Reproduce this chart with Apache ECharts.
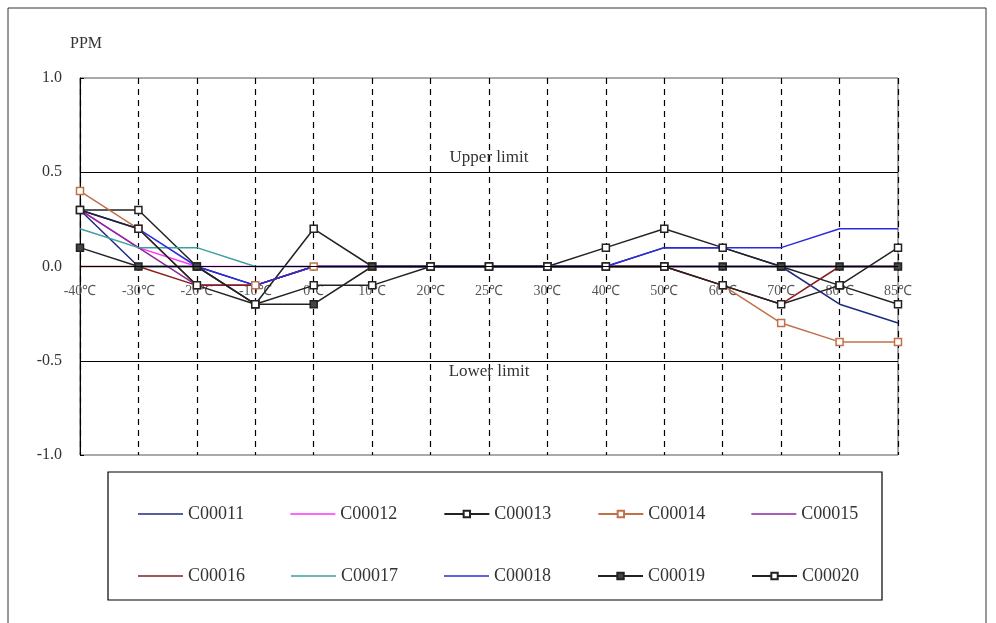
<!DOCTYPE html>
<html><head><meta charset="utf-8">
<script src="https://cdn.jsdelivr.net/npm/echarts@6/dist/echarts.min.js"></script>
<style>html,body{margin:0;background:#fff}#c{width:996px;height:623px}</style>
</head><body><div id="c"></div>
<script>
// 温度类别
var temps = ['-40℃','-30℃','-20℃','-10℃','0℃','10℃','20℃','25℃','30℃','40℃','50℃','60℃','70℃','80℃','85℃'];
var names = ['C00011','C00012','C00013','C00014','C00015','C00016','C00017','C00018','C00019','C00020'];
var colors = ['#1f2a80','#ff33ff','#222222','#c0714a','#8a2a9a','#8a1e1e','#3aa0a0','#2b2bdd','#222222','#222222'];
var marked = [false,false,true,true,false,false,false,false,true,true];
var c00011 = [0.3,0,0,-0.1,0,0,0,0,0,0,0.1,0.1,0,-0.2,-0.3];
var c00012 = [0.3,0.1,0,0,0,0,0,0,0,0,0,0,0,0,0];
var c00013 = [0.3,0.3,0,-0.2,0.2,0,0,0,0,0.1,0.2,0.1,0,-0.1,-0.2];
var c00014 = [0.4,0.2,-0.1,-0.1,0,0,0,0,0,0,0,-0.1,-0.3,-0.4,-0.4];
var c00015 = [0.3,0.1,-0.1,-0.1,0,0,0,0,0,0,0,0,0,0,0];
var c00016 = [0,0,-0.1,-0.1,0,0,0,0,0,0,0,-0.1,-0.2,0,0];
var c00017 = [0.2,0.1,0.1,0,0,0,0,0,0,0,0,0,0,0,0];
var c00018 = [0.3,0.2,0,-0.1,0,0,0,0,0,0,0.1,0.1,0.1,0.2,0.2];
var c00019 = [0.1,0,0,-0.2,-0.2,0,0,0,0,0,0,0,0,0,0];
var c00020 = [0.3,0.2,-0.1,-0.2,-0.1,-0.1,0,0,0,0,0,-0.1,-0.2,-0.1,0.1];
var allData = [c00011,c00012,c00013,c00014,c00015,c00016,c00017,c00018,c00019,c00020];

var font = 'Liberation Serif';
var series = names.map(function (n, i) {
    return {
        name: n, type: 'line', data: allData[i],
        color: colors[i],
        symbol: marked[i] ? 'rect' : 'none', symbolSize: 7,
        showSymbol: marked[i],
        itemStyle: {color: i == 8 ? '#444' : '#fff', borderColor: colors[i], borderWidth: 1.5},
        lineStyle: {color: colors[i], width: 1.5},
        z: 3
    };
});
// 上下限 + 零线
series[0].markLine = {
    silent: true, symbol: 'none',
    lineStyle: {color: '#000', type: 'solid', width: 1.2},
    label: {position: 'middle', fontFamily: font, fontSize: 17, color: '#333'},
    data: [
        {yAxis: 0.5, label: {formatter: 'Upper limit', distance: 6}},
        {yAxis: -0.5, label: {formatter: 'Lower limit', position: 'insideMiddleBottom', distance: 2}},
        {yAxis: 0, label: {show: false}}
    ]
};
function legendItems(list) {
    return list.map(function (n) {
        var i = names.indexOf(n);
        return marked[i] ? {name: n} : {name: n, icon: 'path://M0,0 L45,0 L45,1.5 L0,1.5 Z', itemHeight: 2,
            itemStyle: {color: colors[i], borderWidth: 0}};
    });
}
var legendBase = {
    itemWidth: 45, itemHeight: 8, itemGap: 46,
    textStyle: {fontFamily: font, fontSize: 18, color: '#333'}
};
var option = {
    animation: false,
    grid: {left: 80, right: 98, top: 78, bottom: 168, show: true, borderColor: '#555', borderWidth: 1},
    xAxis: {
        type: 'category', data: temps, boundaryGap: false,
        offset: -189,
        axisLine: {show: false},
        axisTick: {show: false},
        axisLabel: {fontFamily: font, fontSize: 14, color: '#555', margin: 18, interval: 0},
        splitLine: {show: true, lineStyle: {color: '#000', type: [6, 5], width: 1.2}}
    },
    yAxis: {
        type: 'value', min: -1, max: 1, interval: 0.5,
        name: 'PPM', nameGap: 26, nameTextStyle: {fontFamily: font, fontSize: 16, color: '#333', align: 'left', padding: [0,0,0,-10]},
        axisLine: {show: true, lineStyle: {color: '#000'}},
        axisTick: {show: true, inside: true, length: 4},
        axisLabel: {fontFamily: font, fontSize: 16, color: '#333', margin: 18, formatter: function (v) { return v.toFixed(1); }},
        splitLine: {show: false}
    },
    legend: [
        Object.assign({left: 133, top: 500, data: legendItems(names.slice(0, 5))}, legendBase),
        Object.assign({left: 133, top: 562, data: legendItems(names.slice(5))}, legendBase)
    ],
    graphic: [
        {type: 'rect', shape: {x: 8, y: 8, width: 978, height: 620}, style: {fill: 'none', stroke: '#333', lineWidth: 1}},
        {type: 'rect', shape: {x: 108, y: 472, width: 774, height: 128}, style: {fill: 'none', stroke: '#000', lineWidth: 1.2}}
    ],
    series: series
};
echarts.init(document.getElementById('c')).setOption(option);
</script></body></html>
